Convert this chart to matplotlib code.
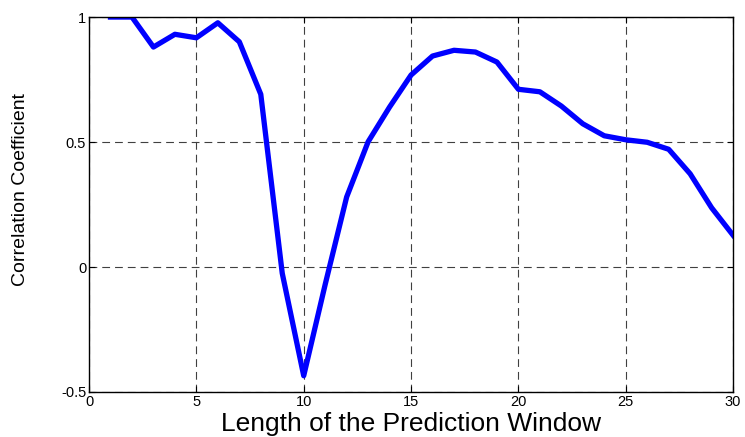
import matplotlib
matplotlib.use("Agg")
import matplotlib.pyplot as plt

# prediction window length and correlation coefficient
window = list(range(1, 31))
corr = [1.0, 1.0, 0.88, 0.931, 0.917, 0.977, 0.901, 0.691, -0.025, -0.435,
        -0.07, 0.28, 0.501, 0.64, 0.768, 0.844, 0.867, 0.86, 0.82, 0.711,
        0.701, 0.644, 0.573, 0.525, 0.509, 0.499, 0.471, 0.373, 0.237, 0.127]

xticks = [0, 5, 10, 15, 20, 25, 30]
yticks = [-0.5, 0, 0.5, 1]
ytick_labels = ["-0.5", "0", "0.5", "1"]

plt.rcParams["font.family"] = ["Liberation Sans", "DejaVu Sans"]

fig = plt.figure(figsize=(7.45, 4.37), dpi=100)
ax = fig.add_axes([0.1195, 0.103, 0.8645, 0.858])

ax.plot(window, corr, color=(0, 0, 1), linewidth=3.8, solid_joinstyle="round")

ax.set_xlim(0, 30)
ax.set_ylim(-0.5, 1)
ax.set_xticks(xticks)
ax.set_yticks(yticks)
ax.set_yticklabels(ytick_labels)
ax.tick_params(direction="in", top=True, right=True, labelsize=10.5,
               length=4, width=0.8, pad=2)
ax.grid(True, linestyle=(0, (7, 4.5)), color="0.25", linewidth=0.8)
for s in ax.spines.values():
    s.set_linewidth(1.0)

ax.set_xlabel("Length of the Prediction Window", fontsize=19, labelpad=2.5)
ax.set_ylabel("Correlation Coefficient", fontsize=14)
ax.yaxis.set_label_coords(-0.093, 0.539)

fig.savefig("out.png", dpi=100)
